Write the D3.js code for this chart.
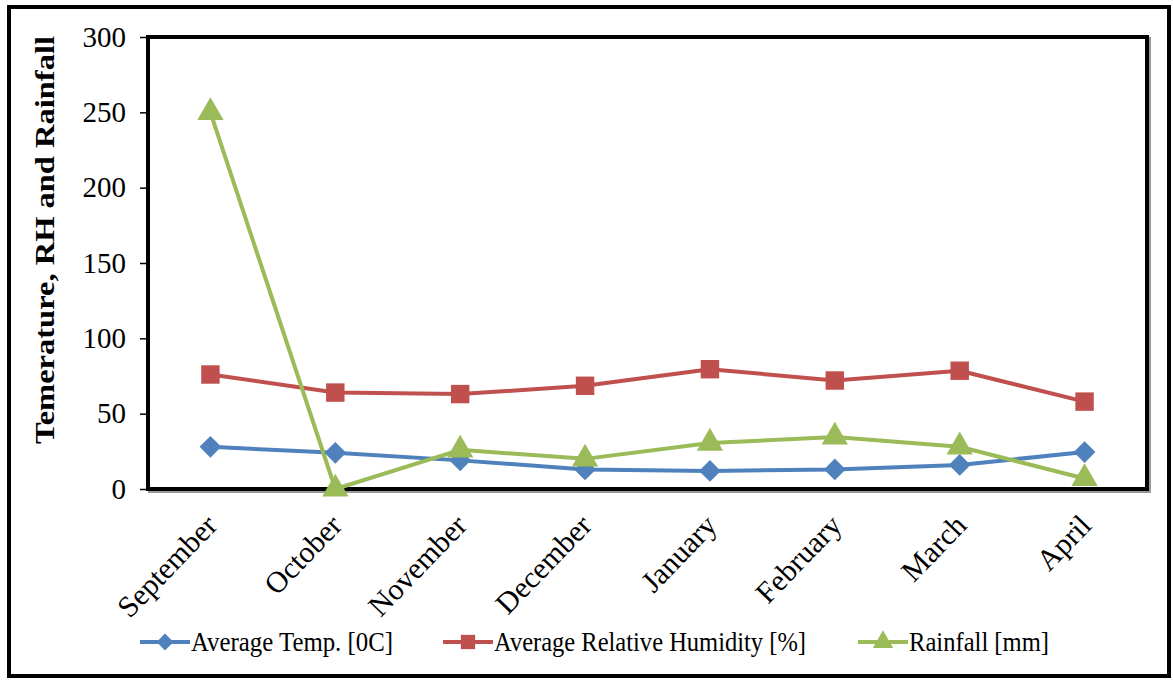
<!DOCTYPE html>
<html>
<head>
<meta charset="utf-8">
<script src="https://cdn.jsdelivr.net/npm/d3@7"></script>
<style>
  body { margin: 0; background: #fff; }
  text { font-family: "Liberation Serif", "Times New Roman", serif; }
</style>
</head>
<body>
<div id="chart"></div>
<script>
// data
var months = ["September", "October", "November", "December", "January", "February", "March", "April"];
var avgTemp = [28, 24, 19, 13, 12, 13, 16, 24.5];
var avgHumidity = [76, 64, 63, 68.5, 79.5, 72, 78.5, 58];
var rainfall = [250, 0, 26, 20, 30.5, 34.5, 28, 7];
var yTicks = [0, 50, 100, 150, 200, 250, 300];

var seriesNames = ["Average Temp. [0C]", "Average Relative Humidity [%]", "Rainfall [mm]"];
var seriesColors = ["#4F81BD", "#C0504D", "#9BBB59"];

var svgWidth = 1173;
var svgHeight = 681;

var margin = { top: 37, right: 26, bottom: 192, left: 148 };
var width = svgWidth - margin.left - margin.right;
var height = svgHeight - margin.top - margin.bottom;

var svg = d3.select("#chart")
  .append("svg")
  .attr("width", svgWidth)
  .attr("height", svgHeight);

// outer frame
svg.append("rect")
  .attr("x", 9).attr("y", 7)
  .attr("width", 1160).attr("height", 669)
  .attr("fill", "none")
  .attr("stroke", "#000")
  .attr("stroke-width", 4);

var chartGroup = svg.append("g")
  .attr("transform", `translate(${margin.left}, ${margin.top})`);

var xScale = d3.scalePoint()
  .domain(months)
  .range([0, width])
  .padding(0.5);

var yScale = d3.scaleLinear()
  .domain([0, 300])
  .range([height, 0]);

// plot area border with a little shadow
chartGroup.append("rect")
  .attr("x", 2).attr("y", 2)
  .attr("width", width).attr("height", height)
  .attr("fill", "none")
  .attr("stroke", "#999")
  .attr("stroke-width", 4);

chartGroup.append("rect")
  .attr("width", width).attr("height", height)
  .attr("fill", "#fff")
  .attr("stroke", "#000")
  .attr("stroke-width", 4);

// y axis
var leftAxis = d3.axisLeft(yScale).tickValues(yTicks).tickSize(8).tickPadding(14);
var yAxis = chartGroup.append("g").call(leftAxis);
yAxis.select(".domain").remove();
yAxis.selectAll("line").attr("stroke", "#000").attr("stroke-width", 1.5);
yAxis.selectAll("text")
  .attr("font-size", "29px")
  .attr("fill", "#000")
  .style("font-family", "'Liberation Serif', serif");

// x axis labels
var bottomAxis = d3.axisBottom(xScale).tickSize(0).tickPadding(0);
var xAxis = chartGroup.append("g")
  .attr("transform", `translate(0, ${height})`)
  .call(bottomAxis);
xAxis.select(".domain").remove();
xAxis.selectAll("text")
  .attr("font-size", "30px")
  .attr("fill", "#000")
  .style("font-family", "'Liberation Serif', serif")
  .attr("text-anchor", "end")
  .attr("dy", "0")
  .attr("y", 0)
  .attr("transform", "translate(8, 38) rotate(-46)");

// y axis title
svg.append("text")
  .attr("transform", "translate(54, 240) rotate(-90)")
  .attr("text-anchor", "middle")
  .attr("font-size", "28px")
  .attr("font-weight", "bold")
  .attr("textLength", 408)
  .attr("lengthAdjust", "spacingAndGlyphs")
  .text("Temerature, RH and Rainfall");

// lines + markers
var allSeries = [avgTemp, avgHumidity, rainfall];
var symbols = [d3.symbolDiamond2, d3.symbolSquare, d3.symbolTriangle];
var symbolSizes = [300, 340, 300];

var line = d3.line()
  .x((d, i) => xScale(months[i]))
  .y(d => yScale(d));

allSeries.forEach(function(values, s) {
  chartGroup.append("path")
    .datum(values)
    .attr("d", line)
    .attr("fill", "none")
    .attr("stroke", seriesColors[s])
    .attr("stroke-width", 4)
    .attr("stroke-linejoin", "round");
});

allSeries.forEach(function(values, s) {
  chartGroup.selectAll(".m" + s)
    .data(values)
    .enter()
    .append("path")
    .attr("class", "m" + s)
    .attr("d", d3.symbol().type(symbols[s]).size(symbolSizes[s]))
    .attr("transform", (d, i) => `translate(${xScale(months[i])}, ${yScale(d)})`)
    .attr("fill", seriesColors[s]);
});

// legend
var legendX = [140, 443, 858];
var legendW = [202, 312, 140];
var legendY = 642;
seriesNames.forEach(function(name, s) {
  var g = svg.append("g").attr("transform", `translate(${legendX[s]}, ${legendY})`);
  g.append("line")
    .attr("x1", 0).attr("x2", 50)
    .attr("stroke", seriesColors[s])
    .attr("stroke-width", 4);
  g.append("path")
    .attr("d", d3.symbol().type(symbols[s]).size(symbolSizes[s] * 0.6))
    .attr("transform", "translate(25, 0)")
    .attr("fill", seriesColors[s]);
  g.append("text")
    .attr("x", 51)
    .attr("y", 9)
    .attr("font-size", "27px")
    .attr("textLength", legendW[s])
    .attr("lengthAdjust", "spacingAndGlyphs")
    .text(name);
});
</script>
</body>
</html>
